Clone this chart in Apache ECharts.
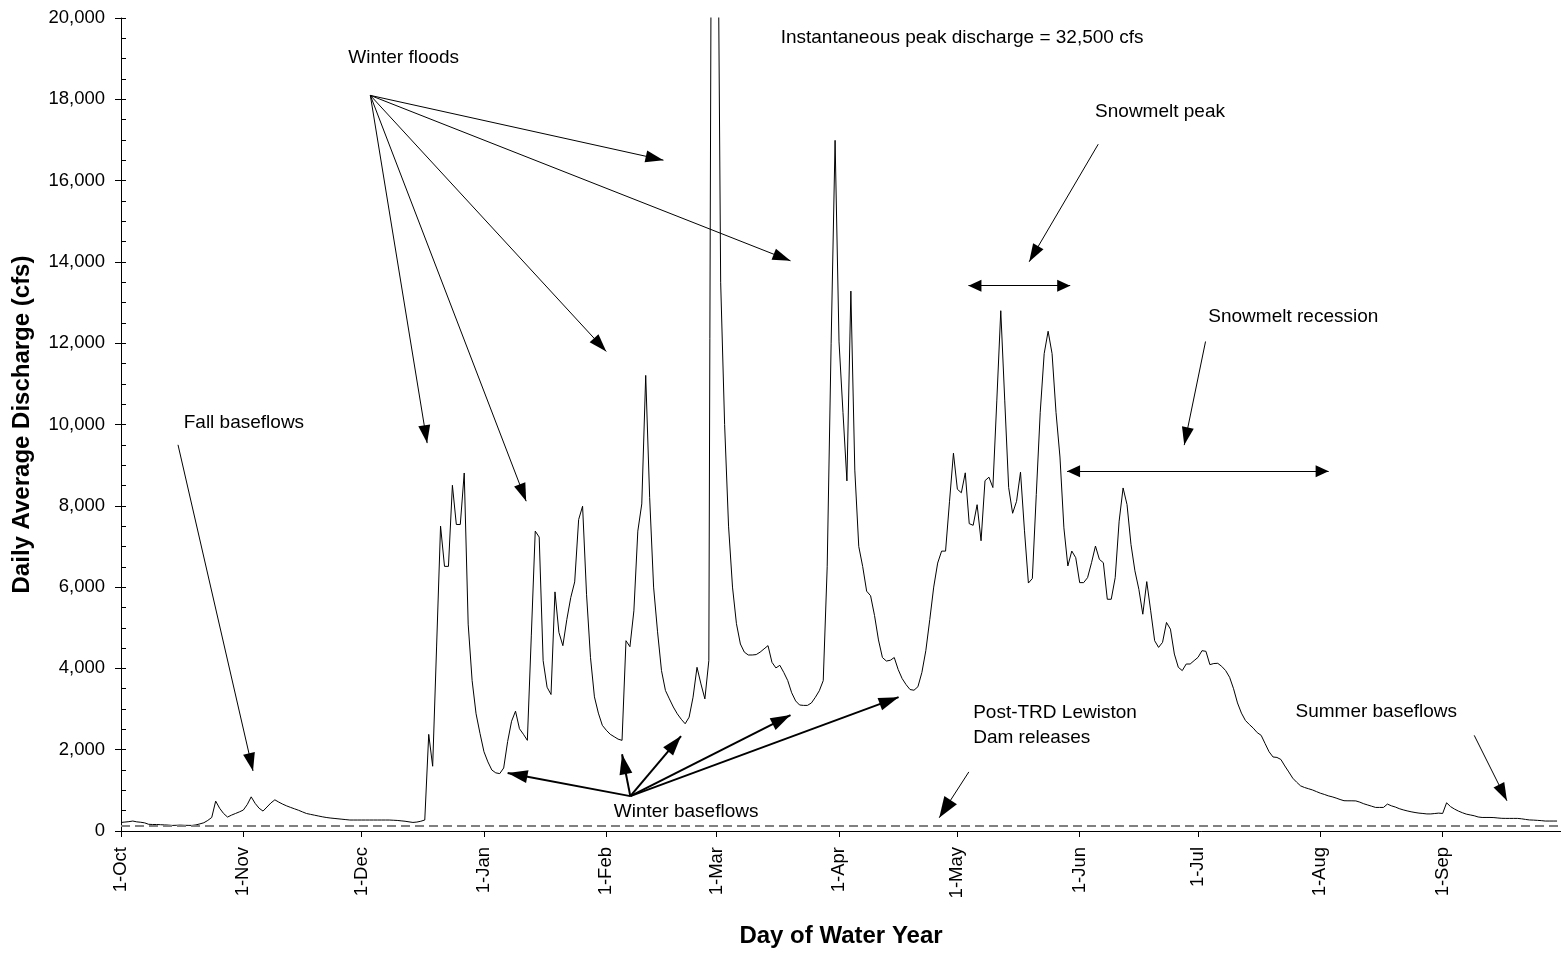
<!DOCTYPE html>
<html>
<head>
<meta charset="utf-8">
<script src="https://cdn.jsdelivr.net/npm/echarts@6/dist/echarts.min.js"></script>
<style>
html, body { margin: 0; padding: 0; background: #fff; }
#chart { width: 1561px; height: 953px; }
</style>
</head>
<body>
<div id="chart"></div>
<script>

// daily average discharge (cfs), one value per day of the water year, starting 1-Oct
var flow = [
    210, 220, 230, 245, 225, 215, 200, 165, 160, 160,
    155, 150, 145, 137, 140, 145, 140, 138, 137, 150,
    175, 203, 260, 333, 735, 560, 431, 343, 390, 430,
    470, 515, 650, 840, 680, 560, 490, 590, 690, 767,
    710, 660, 617, 580, 545, 510, 470, 431, 410, 390,
    370, 350, 333, 320, 310, 300, 290, 280, 270, 270,
    270, 270, 270, 270, 270, 270, 270, 270, 270, 265,
    260, 250, 240, 225, 211, 220, 240, 270, 2377, 1593,
    4550, 7500, 6510, 6510, 8505, 7540, 7540, 8807, 5089, 3700,
    2883, 2400, 1950, 1700, 1500, 1430, 1412, 1550, 2200, 2700,
    2948, 2516, 2380, 2230, 4800, 7377, 7230, 4191, 3537, 3358,
    5882, 4885, 4559, 5200, 5743, 6128, 7662, 7990, 5824, 4272,
    3300, 2900, 2600, 2480, 2380, 2320, 2260, 2230, 4681, 4534,
    5417, 7377, 8046, 11208, 8200, 6000, 4900, 3946, 3456, 3250,
    3050, 2883, 2750, 2638, 2800, 3292, 4027, 3618, 3250, 4191,
    34000, 27000, 13500, 10000, 7500, 6000, 5100, 4600, 4400, 4330,
    4330, 4340, 4400, 4480, 4560, 4150, 4012, 4076, 3900, 3700,
    3400, 3200, 3100, 3090, 3090, 3150, 3289, 3450, 3700, 6500,
    12000, 16990, 12032, 10300, 8613, 13282, 8878, 7000, 6505, 5900,
    5787, 5300, 4700, 4267, 4181, 4200, 4267, 3970, 3750, 3600,
    3480, 3463, 3549, 3900, 4436, 5200, 6000, 6591, 6885, 6885,
    8100, 9294, 8407, 8321, 8811, 7561, 7520, 8027, 7140, 8618,
    8704, 8449, 10600, 12799, 10600, 8449, 7816, 8110, 8828, 7400,
    6100, 6211, 8280, 10300, 11743, 12294, 11743, 10300, 9200, 7458,
    6520, 6887, 6723, 6110, 6110, 6233, 6600, 7010, 6682, 6600,
    5701, 5701, 6233, 7622, 8439, 8030, 7050, 6400, 5946, 5333,
    6135, 5417, 4681, 4517, 4640, 5130, 4966, 4353, 4027, 3946,
    4108, 4108, 4191, 4272, 4436, 4420, 4093, 4120, 4125, 4050,
    3946, 3782, 3500, 3150, 2900, 2720, 2620, 2530, 2420, 2353,
    2150, 1950, 1821, 1810, 1760, 1600, 1453, 1300, 1200, 1110,
    1070, 1040, 1010, 970, 930, 900, 865, 841, 810, 775,
    745, 743, 743, 740, 710, 670, 640, 610, 580, 580,
    580, 662, 620, 590, 550, 520, 495, 473, 455, 440,
    431, 420, 420, 430, 440, 431, 694, 600, 540, 490,
    450, 415, 395, 375, 345, 333, 333, 333, 330, 320,
    312, 310, 310, 310, 310, 300, 285, 272, 268, 262,
    255, 245, 245, 245, 245
]

// day of water year where each month starts, and its label
var monthStarts = [0, 31, 61, 92, 123, 151, 182, 212, 243, 273, 304, 335]
var monthLabels = ['1-Oct', '1-Nov', '1-Dec', '1-Jan', '1-Feb', '1-Mar', '1-Apr', '1-May', '1-Jun', '1-Jul', '1-Aug', '1-Sep']

// post-TRD Lewiston Dam release (cfs)
var damRelease = 140

// text notes: [text, day, cfs] (left edge of the text)
var notes = [
    ['Instantaneous peak discharge = 32,500 cfs', 167.2, 19517],
    ['Winter floods', 57.6, 19027],
    ['Snowmelt peak', 246.9, 17704],
    ['Snowmelt recession', 275.6, 12655],
    ['Fall baseflows', 15.9, 10032],
    ['Post-TRD Lewiston\nDam releases', 216.0, 2605],
    ['Summer baseflows', 297.7, 2924],
    ['Winter baseflows', 124.9, 473]
]

// arrows: [fromDay, fromCfs, toDay, toCfs, kind]
var arrows = [
    [14.45, 9500, 33.46, 1478, 'thin'],
    [63.2, 18096, 137.5, 16503, 'thin'],
    [63.2, 18096, 169.7, 14027, 'thin'],
    [63.2, 18096, 123.0, 11797, 'thin'],
    [63.2, 18096, 102.7, 8113, 'thin'],
    [63.2, 18096, 77.6, 9542, 'thin'],
    [129.1, 858, 98.0, 1429, 'bold'],
    [129.1, 858, 127.0, 1887, 'bold'],
    [129.1, 858, 141.95, 2336, 'bold'],
    [129.1, 858, 169.7, 2851, 'bold'],
    [129.1, 858, 197.1, 3292, 'bold'],
    [247.7, 16895, 230.2, 14003, 'thin'],
    [214.8, 13414, 240.6, 13414, 'double'],
    [274.9, 12042, 269.5, 9493, 'thin'],
    [239.8, 8848, 306.1, 8848, 'double'],
    [214.9, 1453, 207.4, 326, 'big'],
    [343.0, 2353, 351.3, 743, 'thin']
]

var font = 'Liberation Sans, Arial, Helvetica, sans-serif'

var arrowStyles = {
    thin: { width: 1, head: [12, 18] },
    big: { width: 1, head: [15, 21] },
    bold: { width: 2, head: [13, 20] },
    double: { width: 1, head: [12, 13], both: true }
}

function arrowItem(a) {
    var st = arrowStyles[a[4]]
    var head = { symbol: 'triangle', symbolSize: st.head, symbolOffset: [0, st.head[1] / 2] }
    var start = { coord: [a[0], a[1]], lineStyle: { color: '#000', width: st.width, type: 'solid' } }
    if (st.both) {
        Object.assign(start, head)
    } else {
        start.symbol = 'none'
    }
    var end = Object.assign({ coord: [a[2], a[3]] }, head)
    return [start, end]
}

var lineItems = arrows.map(arrowItem)
lineItems.push({
    yAxis: damRelease,
    symbol: 'none',
    lineStyle: { color: '#808080', width: 2, type: [9, 5] }
})

var pointItems = notes.map(function (n) {
    return { name: n[0], coord: [n[1], n[2]] }
})

var seriesData = flow.map(function (v, i) { return [i, v] })

var option = {
    animation: false,
    backgroundColor: '#fff',
    grid: { left: 121, right: 0, top: 18, bottom: 119 },
    xAxis: {
        type: 'value',
        min: 0,
        max: 365,
        name: 'Day of Water Year',
        nameLocation: 'middle',
        nameGap: 93,
        nameTextStyle: { fontFamily: font, fontSize: 24, fontWeight: 'bold', color: '#000' },
        axisLine: { lineStyle: { color: '#000', width: 1 } },
        axisTick: { length: 6, customValues: monthStarts, lineStyle: { color: '#000' } },
        axisLabel: {
            customValues: monthStarts,
            rotate: 90,
            margin: 16,
            fontFamily: font,
            fontSize: 18.5,
            color: '#000',
            formatter: function (v) { return monthLabels[monthStarts.indexOf(v)] }
        },
        splitLine: { show: false }
    },
    yAxis: [
        {
            type: 'value',
            min: 0,
            max: 20000,
            interval: 2000,
            name: 'Daily Average Discharge (cfs)',
            nameLocation: 'middle',
            nameGap: 87,
            nameTextStyle: { fontFamily: font, fontSize: 24, fontWeight: 'bold', color: '#000' },
            axisLine: { show: true, lineStyle: { color: '#000', width: 1 } },
            axisTick: { show: true, length: 6, lineStyle: { color: '#000' } },
            axisLabel: {
                margin: 16,
                fontFamily: font,
                fontSize: 18.5,
                color: '#000',
                formatter: function (v) { return v.toLocaleString('en-US') }
            },
            splitLine: { show: false }
        },
        {
            // inner ticks every 500 cfs
            type: 'value',
            min: 0,
            max: 20000,
            interval: 500,
            position: 'left',
            axisLine: { show: false },
            axisTick: { show: true, inside: true, length: 5, lineStyle: { color: '#000' } },
            axisLabel: { show: false },
            splitLine: { show: false }
        }
    ],
    series: [
        {
            type: 'line',
            data: seriesData,
            showSymbol: false,
            symbol: 'none',
            clip: true,
            lineStyle: { color: '#000', width: 1 },
            markLine: {
                silent: true,
                animation: false,
                symbol: ['none', 'none'],
                label: { show: false },
                emphasis: { disabled: true },
                data: lineItems
            },
            markPoint: {
                silent: true,
                animation: false,
                symbol: 'circle',
                symbolSize: 0,
                itemStyle: { color: 'rgba(0,0,0,0)' },
                label: {
                    show: true,
                    position: 'right',
                    distance: 0,
                    fontFamily: font,
                    fontSize: 19,
                    lineHeight: 25,
                    color: '#000',
                    formatter: function (p) { return p.name }
                },
                data: pointItems
            }
        }
    ]
}

var myChart = echarts.init(document.getElementById('chart'))
myChart.setOption(option)

</script>
</body>
</html>
